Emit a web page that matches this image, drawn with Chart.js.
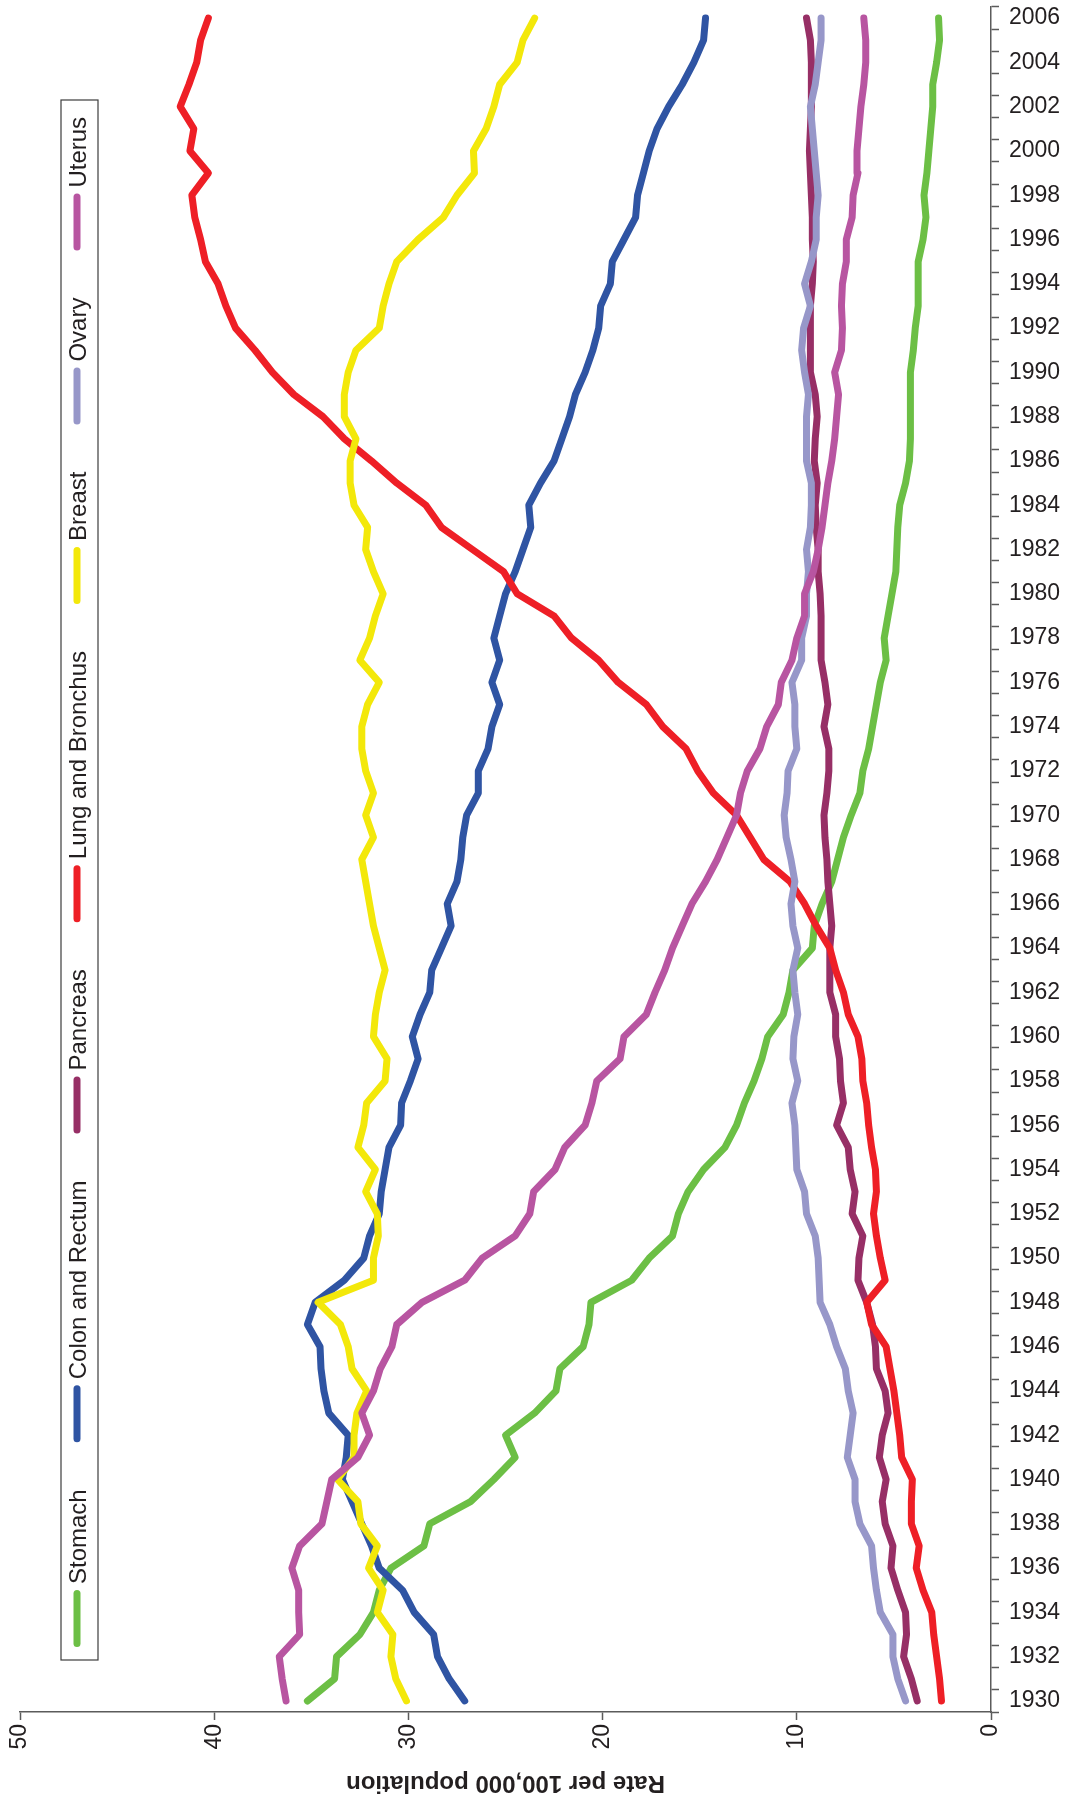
<!DOCTYPE html>
<html lang="en">
<head>
<meta charset="UTF-8">
<title>Cancer death rates, 1930-2006</title>
<script src="https://cdn.jsdelivr.net/npm/chart.js"></script>
<style>
  html, body { margin: 0; padding: 0; background: #fff; }
  #wrap { width: 1066px; height: 1803px; }
</style>
</head>
<body>
<div id="wrap"><canvas id="ratesChart" width="1066" height="1803"></canvas></div>
<script>
// categories
const years = [
  1930, 1931, 1932, 1933, 1934, 1935, 1936, 1937, 1938, 1939,
  1940, 1941, 1942, 1943, 1944, 1945, 1946, 1947, 1948, 1949,
  1950, 1951, 1952, 1953, 1954, 1955, 1956, 1957, 1958, 1959,
  1960, 1961, 1962, 1963, 1964, 1965, 1966, 1967, 1968, 1969,
  1970, 1971, 1972, 1973, 1974, 1975, 1976, 1977, 1978, 1979,
  1980, 1981, 1982, 1983, 1984, 1985, 1986, 1987, 1988, 1989,
  1990, 1991, 1992, 1993, 1994, 1995, 1996, 1997, 1998, 1999,
  2000, 2001, 2002, 2003, 2004, 2005, 2006
];

// rate per 100,000 population, one value per year
const stomach = [
  35.2, 33.8, 33.7, 32.5, 31.8, 31.5, 30.9, 29.2, 28.9, 26.8,
  25.6, 24.5, 25.0, 23.5, 22.4, 22.2, 21.0, 20.7, 20.6, 18.5,
  17.6, 16.4, 16.1, 15.6, 14.8, 13.7, 13.1, 12.7, 12.2, 11.8,
  11.5, 10.7, 10.4, 10.2, 9.2, 9.1, 8.7, 8.2, 7.9, 7.6,
  7.2, 6.75, 6.6, 6.3, 6.1, 5.9, 5.7, 5.4, 5.5, 5.3,
  5.1, 4.9, 4.85, 4.8, 4.7, 4.4, 4.2, 4.15, 4.15, 4.15,
  4.15, 4.0, 3.9, 3.75, 3.75, 3.75, 3.5, 3.35, 3.45, 3.3,
  3.2, 3.1, 3.0, 3.0, 2.8, 2.65, 2.7
];
const colonRectum = [
  27.1, 27.9, 28.5, 28.7, 29.7, 30.3, 31.5, 31.9, 32.4, 32.9,
  33.4, 33.2, 33.1, 34.1, 34.35, 34.5, 34.55, 35.2, 34.8, 33.3,
  32.3, 32.0, 31.5, 31.4, 31.2, 31.0, 30.4, 30.35, 29.9, 29.5,
  29.8, 29.4, 28.9, 28.8, 28.3, 27.8, 28.0, 27.5, 27.3, 27.2,
  27.0, 26.4, 26.4, 25.9, 25.7, 25.3, 25.7, 25.3, 25.6, 25.3,
  25.0, 24.5, 24.1, 23.7, 23.8, 23.2, 22.5, 22.1, 21.7, 21.4,
  20.9, 20.5, 20.2, 20.1, 19.6, 19.5, 18.9, 18.3, 18.2, 17.9,
  17.6, 17.2, 16.6, 15.9, 15.3, 14.8, 14.7
];
const pancreas = [
  3.8, 4.1, 4.5, 4.35, 4.4, 4.8, 5.15, 5.05, 5.45, 5.6,
  5.4, 5.75, 5.6, 5.3, 5.45, 5.9, 5.95, 6.1, 6.4, 6.85,
  6.8, 6.6, 7.15, 7.0, 7.25, 7.35, 7.95, 7.6, 7.75, 7.8,
  8.0, 8.0, 8.3, 8.3, 8.3, 8.2, 8.3, 8.4, 8.45, 8.55,
  8.6, 8.45, 8.35, 8.35, 8.6, 8.4, 8.55, 8.75, 8.75, 8.75,
  8.8, 8.9, 8.9, 9.0, 9.05, 8.95, 9.1, 9.05, 8.95, 9.05,
  9.3, 9.3, 9.3, 9.3, 9.2, 9.15, 9.2, 9.2, 9.25, 9.3,
  9.35, 9.3, 9.25, 9.25, 9.25, 9.3, 9.5
];
const lungBronchus = [
  2.55, 2.65, 2.8, 2.95, 3.05, 3.5, 3.85, 3.7, 4.1, 4.1,
  4.05, 4.6, 4.7, 4.85, 5.0, 5.2, 5.4, 6.15, 6.4, 5.45,
  5.7, 5.9, 6.05, 5.9, 5.95, 6.15, 6.3, 6.4, 6.6, 6.65,
  6.85, 7.35, 7.6, 8.0, 8.3, 9.0, 9.6, 10.35, 11.7, 12.4,
  13.1, 14.3, 15.1, 15.7, 16.9, 17.75, 19.2, 20.2, 21.6, 22.5,
  24.4, 25.1, 26.7, 28.3, 29.1, 30.6, 31.9, 33.3, 34.4, 35.9,
  37.0, 37.9, 38.9, 39.4, 39.8, 40.45, 40.7, 41.0, 41.15, 40.3,
  41.25, 41.05, 41.75, 41.3, 40.9, 40.7, 40.3
];
const breast = [
  30.1, 30.65, 30.9, 30.8, 31.6, 31.3, 32.05, 31.6, 32.45, 32.6,
  33.65, 32.8, 32.8, 32.65, 32.15, 32.9, 33.1, 33.5, 34.65, 31.8,
  31.8, 31.55, 31.6, 32.2, 31.7, 32.6, 32.3, 32.15, 31.2, 31.1,
  31.8, 31.7, 31.5, 31.2, 31.5, 31.8, 32.0, 32.2, 32.4, 31.8,
  32.2, 31.8, 32.2, 32.4, 32.4, 32.1, 31.5, 32.5, 32.0, 31.7,
  31.3, 31.8, 32.2, 32.1, 32.8, 33.0, 33.0, 32.7, 33.3, 33.3,
  33.1, 32.7, 31.5, 31.3, 31.0, 30.6, 29.5, 28.2, 27.5, 26.6,
  26.65, 26.0, 25.6, 25.3, 24.4, 24.1, 23.5
];
const ovary = [
  4.4, 4.8, 5.05, 5.05, 5.7, 5.9, 6.05, 6.15, 6.75, 7.0,
  7.0, 7.4, 7.25, 7.1, 7.35, 7.5, 7.95, 8.3, 8.8, 8.85,
  8.9, 9.05, 9.5, 9.6, 10.0, 10.05, 10.1, 10.25, 9.95, 10.2,
  10.15, 9.95, 10.1, 10.2, 9.95, 10.2, 10.3, 10.1, 10.3, 10.55,
  10.65, 10.5, 10.45, 10.0, 10.1, 10.1, 10.25, 9.75, 9.75, 9.5,
  9.5, 9.4, 9.5, 9.3, 9.25, 9.25, 9.5, 9.5, 9.5, 9.4,
  9.6, 9.75, 9.65, 9.3, 9.6, 9.25, 9.0, 9.0, 8.9, 9.0,
  9.1, 9.2, 9.3, 9.05, 8.9, 8.75, 8.75
];
const uterus = [
  36.3, 36.5, 36.65, 35.6, 35.65, 35.65, 36.0, 35.6, 34.45, 34.2,
  33.95, 32.6, 32.0, 32.4, 31.8, 31.45, 30.85, 30.6, 29.3, 27.1,
  26.2, 24.5, 23.75, 23.55, 22.45, 21.95, 20.9, 20.55, 20.3, 19.1,
  18.9, 17.75, 17.3, 16.8, 16.4, 15.9, 15.4, 14.7, 14.1, 13.6,
  13.1, 12.9, 12.55, 11.9, 11.55, 10.95, 10.8, 10.25, 10.0, 9.6,
  9.6, 9.15, 8.9, 8.7, 8.55, 8.4, 8.2, 8.05, 7.95, 7.85,
  8.05, 7.7, 7.65, 7.7, 7.65, 7.45, 7.45, 7.15, 7.1, 6.85,
  6.9, 6.8, 6.7, 6.55, 6.45, 6.45, 6.55
];

const seriesNames = ['Stomach', 'Colon and Rectum', 'Pancreas', 'Lung and Bronchus', 'Breast', 'Ovary', 'Uterus'];
const seriesValues = [stomach, colonRectum, pancreas, lungBronchus, breast, ovary, uterus];
const seriesColors = ['#6cbf45', '#2f54a3', '#972f66', '#ee1f26', '#f3e80a', '#9797c9', '#b855a1'];

// tick labels
const rateTicks = [0, 10, 20, 30, 40, 50];
const yearLabelEvery = 2;
const rateTitle = 'Rate per 100,000 population';

const FONT = "'Liberation Sans', Arial, Helvetica, sans-serif";
const AXIS_GREY = '#5b5b5b';
const TEXT = '#231f20';

// legend sits inside the plot, entries stacked bottom-to-top, text turned -90deg
const sideLegend = {
  id: 'sideLegend',
  afterDraw(chart) {
    const ctx = chart.ctx;
    const box = { left: 61, right: 98, top: 100, bottom: 1660 };
    const cx = 78;
    ctx.save();
    ctx.strokeStyle = '#3c3c3c';
    ctx.lineWidth = 1.2;
    ctx.strokeRect(box.left, box.top, box.right - box.left, box.bottom - box.top);

    ctx.font = '24px ' + FONT;
    ctx.textBaseline = 'middle';
    ctx.textAlign = 'left';
    let y = 1647;
    seriesNames.forEach((name, k) => {
      ctx.strokeStyle = seriesColors[k];
      ctx.lineWidth = 7;
      ctx.lineCap = 'round';
      ctx.beginPath();
      ctx.moveTo(cx - 1, y - 3.5);
      ctx.lineTo(cx - 1, y - 53.5);
      ctx.stroke();

      const textStart = y - 63;
      ctx.save();
      ctx.translate(cx + 1, textStart);
      ctx.rotate(-Math.PI / 2);
      ctx.fillStyle = TEXT;
      ctx.fillText(name, 0, 0);
      ctx.restore();

      const w = ctx.measureText(name).width;
      y = textStart - w - 47;
    });
    ctx.restore();
  }
};

// value axis title, upside down under the axis
const rateAxisTitle = {
  id: 'rateAxisTitle',
  afterDraw(chart) {
    const ctx = chart.ctx;
    const area = chart.chartArea;
    ctx.save();
    ctx.translate((area.left + area.right) / 2, 1783);
    ctx.rotate(Math.PI);
    ctx.font = 'bold 24px ' + FONT;
    ctx.fillStyle = TEXT;
    ctx.textAlign = 'center';
    ctx.textBaseline = 'middle';
    ctx.fillText(rateTitle, 0, 0);
    ctx.restore();
  }
};

// later series are painted over earlier ones
const drawOrder = [7, 6, 5, 4, 3, 2, 1];

new Chart(document.getElementById('ratesChart'), {
  type: 'line',
  data: {
    datasets: seriesNames.map((name, k) => ({
      label: name,
      data: years.map((yr, i) => ({ x: seriesValues[k][i], y: yr })),
      borderColor: seriesColors[k],
      backgroundColor: seriesColors[k],
      borderWidth: 7,
      borderCapStyle: 'round',
      borderJoinStyle: 'round',
      pointRadius: 0,
      pointHoverRadius: 0,
      tension: 0,
      fill: false,
      order: drawOrder[k]
    }))
  },
  options: {
    responsive: false,
    animation: false,
    devicePixelRatio: 1,
    indexAxis: 'y',
    layout: { padding: { left: 20, top: 7, right: 0, bottom: 0 } },
    plugins: {
      legend: { display: false },
      tooltip: { enabled: false }
    },
    scales: {
      x: {
        type: 'linear',
        position: 'bottom',
        reverse: true,
        min: 0,
        max: 50,
        afterBuildTicks: axis => { axis.ticks = rateTicks.map(v => ({ value: v })); },
        afterFit: axis => {
          axis.height = 91;
          axis.paddingLeft = 0;
          axis.paddingRight = 0;
        },
        ticks: {
          minRotation: 90,
          maxRotation: 90,
          padding: 4,
          color: TEXT,
          font: { family: FONT, size: 23 },
          callback: v => String(v)
        },
        grid: { drawOnChartArea: false, drawTicks: true, tickLength: 8, tickColor: AXIS_GREY, tickWidth: 1.5 },
        border: { display: true, color: AXIS_GREY, width: 1.5 }
      },
      y: {
        type: 'linear',
        position: 'right',
        min: 1929.5,
        max: 2006.5,
        afterBuildTicks: axis => { axis.ticks = years.map(v => ({ value: v })); },
        afterFit: axis => {
          axis.width = 75;
          axis.paddingTop = 0;
          axis.paddingBottom = 0;
        },
        ticks: {
          autoSkip: false,
          padding: 10,
          color: TEXT,
          font: { family: FONT, size: 23 },
          callback: v => (v % yearLabelEvery === 0 ? String(v) : '')
        },
        grid: { offset: true, drawOnChartArea: false, drawTicks: true, tickLength: 8, tickColor: AXIS_GREY, tickWidth: 1.5 },
        border: { display: true, color: AXIS_GREY, width: 1.5 }
      }
    }
  },
  plugins: [sideLegend, rateAxisTitle]
});
</script>
</body>
</html>
